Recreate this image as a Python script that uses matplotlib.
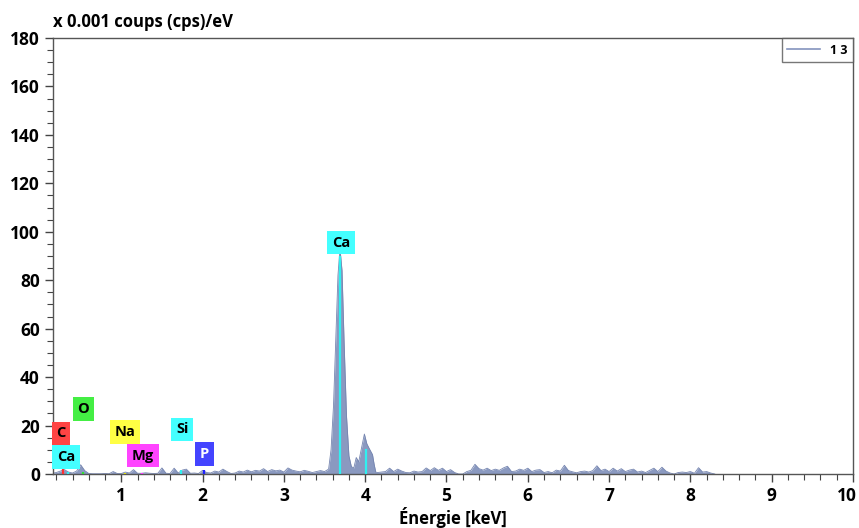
import matplotlib
matplotlib.use("Agg")
import matplotlib.pyplot as plt
import matplotlib.transforms as mtransforms
from matplotlib.ticker import MultipleLocator

# ---- data ----
energy_low = [0.15, 0.20, 0.25, 0.30, 0.35, 0.40, 0.45, 0.50, 0.55, 0.60, 0.65, 0.70,
              0.75, 0.80, 0.85, 0.90, 0.95, 1.00, 1.05, 1.10, 1.15, 1.20, 1.25, 1.30,
              1.35, 1.40, 1.45, 1.50, 1.55, 1.60, 1.65, 1.70, 1.75, 1.80, 1.85, 1.90,
              1.95, 2.00, 2.05, 2.10, 2.15, 2.20, 2.25, 2.30, 2.35, 2.40, 2.45, 2.50,
              2.55, 2.60, 2.65, 2.70, 2.75, 2.80, 2.85, 2.90, 2.95, 3.00, 3.05, 3.10,
              3.15, 3.20, 3.25, 3.30, 3.35, 3.40, 3.45, 3.50]
counts_low = [0.3, 0.6, 1.2, 1.8, 0.8, 0.4, 1.2, 3.8, 1.4, 0.2, 0.1, 0.1,
              0.1, 0.2, 0.1, 1.0, 0.2, 0.2, 0.8, 0.4, 1.8, 0.3, 0.3, 0.5,
              0.3, 0.2, 0.3, 2.5, 0.3, 0.2, 2.4, 0.4, 1.6, 2.0, 0.3, 0.4,
              0.2, 1.5, 0.6, 0.4, 1.2, 0.8, 2.0, 1.0, 0.2, 0.4, 1.2, 0.8,
              1.6, 0.9, 1.5, 1.2, 2.2, 1.0, 1.8, 1.3, 1.6, 0.8, 2.5, 1.6,
              1.2, 0.9, 1.5, 1.1, 0.6, 1.0, 1.4, 1.0]
energy_peak = [3.55, 3.58, 3.61, 3.64, 3.665, 3.69, 3.715, 3.74, 3.77, 3.80, 3.83,
               3.86, 3.89, 3.92, 3.95, 3.99, 4.02, 4.05, 4.09, 4.11, 4.13]
counts_peak = [2.0, 10.0, 28.0, 57.0, 82.0, 93.0, 84.0, 55.0, 24.0, 7.5, 3.0,
               2.5, 6.8, 5.0, 10.0, 16.5, 12.5, 10.5, 8.0, 4.0, 0.8]
energy_high = [4.15, 4.20, 4.25, 4.30, 4.35, 4.40, 4.45, 4.50, 4.55, 4.60, 4.65,
               4.70, 4.75, 4.80, 4.85, 4.90, 4.95, 5.00, 5.05, 5.10, 5.15, 5.20,
               5.25, 5.30, 5.35, 5.40, 5.45, 5.50, 5.55, 5.60, 5.65, 5.70, 5.75,
               5.80, 5.85, 5.90, 5.95, 6.00, 6.05, 6.10, 6.15, 6.20, 6.25, 6.30,
               6.35, 6.40, 6.45, 6.50, 6.55, 6.60, 6.65, 6.70, 6.75, 6.80, 6.85,
               6.90, 6.95, 7.00, 7.05, 7.10, 7.15, 7.20, 7.25, 7.30, 7.35, 7.40,
               7.45, 7.50, 7.55, 7.60, 7.65, 7.70, 7.75, 7.80, 7.85, 7.90, 7.95,
               8.00, 8.05, 8.10, 8.15, 8.20, 8.25, 8.30]
counts_high = [0.6, 0.8, 1.0, 2.4, 1.0, 2.0, 1.2, 0.6, 0.5, 1.2, 0.8,
               1.0, 2.5, 1.4, 2.6, 1.5, 2.4, 1.0, 1.8, 0.6, 0.0, 0.0,
               1.0, 1.5, 4.0, 2.2, 1.6, 2.4, 1.4, 2.0, 1.5, 2.5, 3.2,
               1.0, 1.2, 2.0, 1.5, 2.4, 1.0, 1.6, 1.8, 0.6, 1.0, 0.5,
               1.6, 1.2, 3.6, 1.4, 0.9, 0.5, 1.0, 1.2, 0.8, 1.4, 3.4,
               1.4, 2.0, 1.0, 2.4, 1.2, 2.2, 1.0, 1.6, 2.0, 0.8, 1.2,
               0.6, 1.5, 2.4, 1.0, 2.8, 1.2, 0.4, 0.0, 0.6, 0.8, 0.6,
               1.0, 0.3, 2.6, 0.8, 1.0, 0.4, 0.0]

energy = energy_low + energy_peak + energy_high
counts = counts_low + counts_peak + counts_high

# element lines: energy, line height, colour
line_names = ["C", "O", "Na", "Mg", "Si", "P", "Ca", "Ca", "Ca"]
line_energy = [0.277, 0.525, 1.041, 1.253, 1.740, 2.013, 0.341, 3.691, 4.012]
line_height = [3.0, 1.0, 0.4, 0.5, 1.8, 1.5, 1.0, 90.0, 10.5]
line_colors = ["#ff3030", "#30e030", "#e0e000", "#ff30ff", "#30f0f0", "#2020ff",
               "#30f0f0", "#30f0f0", "#30f0f0"]

# labels: text, x, y, box colour, text colour
label_text = ["C", "O", "Na", "Mg", "Si", "P", "Ca", "Ca"]
label_x = [0.26, 0.53, 1.05, 1.27, 1.75, 2.02, 0.32, 3.70]
label_y = [16.8, 26.8, 17.3, 7.5, 18.5, 8.2, 7.0, 95.5]
label_bg = ["#ff4444", "#44ee44", "#ffff44", "#ff44ff", "#44ffff", "#4444ff",
            "#44ffff", "#44ffff"]
label_fg = ["black", "black", "black", "black", "black", "white", "black", "black"]

fill_color = "#8494bd"

plt.rcParams['font.family'] = ['Open Sans', 'DejaVu Sans']

fig = plt.figure(figsize=(8.59, 5.28), dpi=100)
ax = fig.add_axes([0.0617, 0.1023, 0.9313, 0.8257])

ax.fill_between(energy, counts, 0, color=fill_color, alpha=0.95, linewidth=0)
ax.plot(energy, counts, color="#7585b0", linewidth=0.6, label="1 3")

for e, h, c in zip(line_energy, line_height, line_colors):
    ax.vlines(e, 0, h, colors=c, linewidth=1.6, zorder=3)

for t, x, y, bg, fg in zip(label_text, label_x, label_y, label_bg, label_fg):
    ax.text(x, y, t, ha="center", va="center", fontsize=10.5, fontweight="bold",
            color=fg, zorder=5,
            bbox=dict(boxstyle="square,pad=0.32", facecolor=bg, edgecolor="none"))

ax.set_xlim(0.16, 10.0)
ax.set_ylim(0, 180)
ax.xaxis.set_major_locator(MultipleLocator(1))
ax.xaxis.set_minor_locator(MultipleLocator(0.2))
ax.yaxis.set_major_locator(MultipleLocator(20))
ax.yaxis.set_minor_locator(MultipleLocator(5))
ax.tick_params(which="major", length=6, width=1, color="#444444", direction="out",
               labelsize=12.5)
ax.tick_params(which="minor", length=4, width=0.8, color="#444444", direction="out")
for lbl in ax.get_xticklabels() + ax.get_yticklabels():
    lbl.set_fontweight("bold")
fig.canvas.draw()
xlabels = ax.get_xticklabels()
shift = mtransforms.ScaledTranslation(-6 / 100, 0, fig.dpi_scale_trans)
for lbl in xlabels:
    if lbl.get_text() == "10":
        lbl.set_transform(lbl.get_transform() + shift)
for s in ax.spines.values():
    s.set_color("#555555")
    s.set_linewidth(1.0)

ax.set_xlabel("Énergie [keV]", fontsize=12, fontweight="bold", labelpad=1)
fig.text(0.0617, 0.948, "x 0.001 coups (cps)/eV", fontsize=12, fontweight="bold",
         ha="left", va="baseline")

leg = ax.legend(loc="upper right", borderaxespad=0, fancybox=False,
                handlelength=2.6, handletextpad=0.8, borderpad=0.45,
                prop={"weight": "bold", "size": 9})
leg.get_frame().set_edgecolor("#555555")
leg.get_frame().set_linewidth(1.0)
for l in leg.get_lines():
    l.set_color("#8494bd")
    l.set_linewidth(1.2)

fig.savefig("out.png", dpi=100)
